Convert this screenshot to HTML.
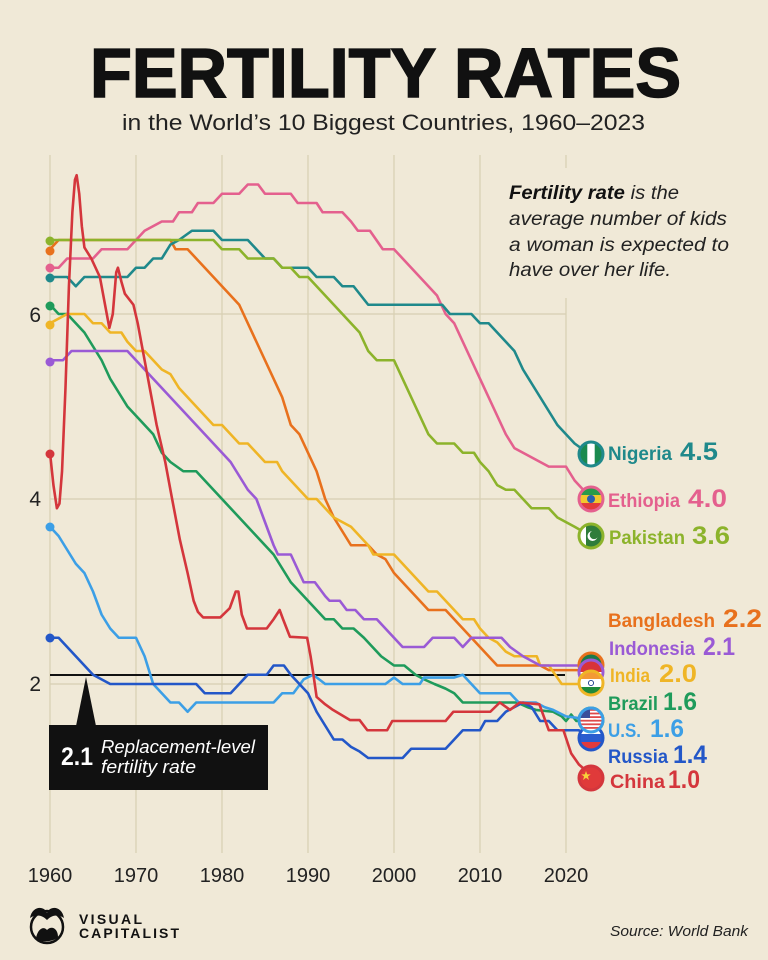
<!DOCTYPE html>
<html><head><meta charset="utf-8">
<style>
html,body{margin:0;padding:0;background:#f0e9d7;}
svg{display:block;}
polyline{vector-effect:non-scaling-stroke;}
text{font-family:"Liberation Sans",sans-serif;}
</style></head>
<body>
<svg width="768" height="960" viewBox="0 0 768 960" xmlns="http://www.w3.org/2000/svg">
<rect width="768" height="960" fill="#f0e9d7"/>
<defs><clipPath id="fc"><circle r="11"/></clipPath></defs>

<!-- Title -->
<text x="90" y="97" font-size="70" font-weight="bold" fill="#111" stroke="#111" stroke-width="1.6" textLength="591" lengthAdjust="spacingAndGlyphs">FERTILITY RATES</text>
<text x="122" y="130" font-size="22" fill="#222" textLength="523" lengthAdjust="spacingAndGlyphs">in the World’s 10 Biggest Countries, 1960–2023</text>

<!-- grid -->
<g stroke="#d7cfb2" stroke-width="1.2">
<line x1="50" y1="155" x2="50" y2="853"/>
<line x1="136" y1="155" x2="136" y2="853"/>
<line x1="222" y1="155" x2="222" y2="853"/>
<line x1="308" y1="155" x2="308" y2="853"/>
<line x1="394" y1="155" x2="394" y2="853"/>
<line x1="480" y1="155" x2="480" y2="853"/>
<line x1="566" y1="155" x2="566" y2="853"/>
<line x1="50" y1="314" x2="566" y2="314"/>
<line x1="50" y1="499" x2="566" y2="499"/>
<line x1="50" y1="684" x2="566" y2="684"/>
</g>

<!-- description -->
<rect x="500" y="168" width="250" height="130" fill="#f0e9d7"/>
<g font-size="19" font-style="italic" fill="#222">
<text x="509" y="199" textLength="170" lengthAdjust="spacingAndGlyphs"><tspan font-weight="bold" fill="#111">Fertility rate</tspan> is the</text>
<text x="509" y="225" textLength="218" lengthAdjust="spacingAndGlyphs">average number of kids</text>
<text x="509" y="251" textLength="220" lengthAdjust="spacingAndGlyphs">a woman is expected to</text>
<text x="509" y="276" textLength="162" lengthAdjust="spacingAndGlyphs">have over her life.</text>
</g>

<!-- y labels -->
<g font-size="21" fill="#222" text-anchor="end">
<text x="41" y="322">6</text>
<text x="41" y="506">4</text>
<text x="41" y="691">2</text>
</g>
<!-- x labels -->
<g font-size="20" fill="#222" text-anchor="middle">
<text x="50" y="882">1960</text>
<text x="136" y="882">1970</text>
<text x="222" y="882">1980</text>
<text x="308" y="882">1990</text>
<text x="394" y="882">2000</text>
<text x="480" y="882">2010</text>
<text x="566" y="882">2020</text>
</g>

<!-- replacement line -->
<line x1="50" y1="675" x2="565" y2="675" stroke="#111" stroke-width="2"/>

<!-- series -->
<g transform="translate(50 684) scale(8.6 -92.5) translate(-1960 -2)" fill="none" stroke-width="2.6" stroke-linejoin="round" stroke-linecap="round">
<polyline stroke="#e8711d" points="1960,6.7 1961,6.8 1974,6.8 1974.6,6.7 1976,6.7 1977,6.6 1978,6.5 1979,6.4 1980,6.3 1981,6.2 1982,6.1 1983,5.9 1984,5.7 1985,5.5 1986,5.3 1987,5.1 1988,4.8 1989,4.7 1990,4.5 1991,4.3 1992,4.0 1993,3.8 1994,3.65 1995,3.5 1997,3.5 1998,3.4 1999,3.35 2000,3.2 2001,3.1 2002,3.0 2003,2.9 2004,2.8 2006,2.8 2007,2.7 2008,2.6 2009,2.5 2010,2.4 2011,2.3 2012,2.2 2017,2.2 2018,2.15 2022.5,2.15"/>
<polyline stroke="#e4608e" points="1960,6.5 1961,6.5 1962,6.6 1965,6.6 1966,6.7 1969,6.7 1970,6.8 1971,6.9 1972,6.95 1973,7.0 1974.3,7.0 1975,7.1 1976.5,7.1 1977.2,7.2 1979,7.2 1980,7.3 1982,7.3 1983,7.4 1984.2,7.4 1985,7.3 1988,7.3 1988.8,7.2 1991,7.2 1991.7,7.1 1994,7.1 1995,7.0 1995.8,6.9 1997.2,6.9 1998.7,6.7 2000,6.7 2001,6.6 2002,6.5 2003,6.4 2004,6.3 2005,6.2 2006,6.0 2007,5.9 2008,5.7 2009,5.5 2010,5.3 2011,5.1 2012,4.9 2013,4.7 2014,4.55 2015,4.5 2016,4.45 2017,4.4 2018,4.35 2020,4.35 2021,4.2 2022.5,4.05"/>
<polyline stroke="#1f898b" points="1960,6.4 1962,6.4 1963,6.3 1964,6.4 1969,6.4 1970,6.5 1971,6.5 1972,6.6 1973,6.6 1974,6.75 1975,6.8 1976.5,6.9 1979,6.9 1980,6.8 1983,6.8 1984,6.7 1985,6.6 1986,6.6 1987,6.5 1990,6.5 1991,6.4 1993,6.4 1994,6.3 1995.3,6.3 1997,6.1 2005.6,6.1 2006.5,6.0 2009,6.0 2010,5.9 2011,5.9 2012,5.8 2013,5.7 2014,5.6 2015,5.4 2016,5.25 2017,5.1 2018,4.95 2019,4.8 2020,4.7 2021,4.6 2022.5,4.5"/>
<polyline stroke="#8cb32b" points="1960,6.8 1979,6.8 1980,6.7 1982,6.7 1983,6.6 1986,6.6 1987,6.5 1988,6.5 1989,6.4 1990,6.4 1991,6.3 1992,6.2 1993,6.1 1994,6.0 1995,5.9 1996,5.8 1997,5.6 1998,5.5 2000,5.5 2001,5.3 2002,5.1 2003,4.9 2004,4.7 2005,4.6 2007,4.6 2008,4.5 2009.3,4.5 2010,4.4 2011,4.3 2012,4.15 2013,4.1 2014,4.1 2015,4.0 2016,3.9 2018,3.9 2019,3.8 2020,3.75 2021,3.7 2022.5,3.62"/>
<polyline stroke="#1f9b5b" points="1960,6.1 1961,6.0 1962,6.0 1963,5.9 1964,5.8 1965,5.65 1966,5.5 1967,5.3 1968,5.15 1969,5.0 1970,4.9 1971,4.8 1972,4.7 1973,4.5 1974,4.4 1975.5,4.3 1977,4.3 1978,4.2 1979,4.1 1980,4.0 1981,3.9 1982,3.8 1983,3.7 1984,3.6 1985,3.5 1986,3.4 1987,3.25 1988,3.1 1989,3.0 1990,2.9 1991,2.8 1992,2.7 1993,2.7 1994,2.6 1995.3,2.6 1996.5,2.5 1997.5,2.4 1998.5,2.3 2000,2.2 2001.2,2.2 2002.5,2.1 2003.5,2.05 2004.7,2.0 2006,1.95 2007,1.9 2008,1.8 2014.3,1.8 2015.5,1.75 2016.5,1.72 2018.5,1.7 2019.5,1.65 2020,1.6 2020.6,1.67 2021.2,1.6 2022.5,1.62"/>
<polyline stroke="#efb526" points="1960,5.9 1961,5.95 1962,6.0 1964,6.0 1965,5.9 1966,5.9 1967,5.8 1968.3,5.8 1969,5.7 1970,5.6 1971,5.6 1972,5.5 1973,5.4 1974,5.35 1975,5.2 1976,5.1 1977,5.0 1978,4.9 1979,4.8 1980,4.8 1981,4.7 1982,4.6 1983,4.6 1984,4.5 1985,4.4 1986.4,4.4 1987,4.3 1988,4.2 1989,4.1 1990,4.0 1991,4.0 1992,3.9 1993,3.8 1994,3.75 1995,3.7 1996,3.6 1997,3.5 1997.6,3.4 2000,3.4 2001,3.3 2002,3.2 2003,3.1 2004,3.0 2005,3.0 2006,2.9 2007,2.8 2008,2.7 2009.3,2.7 2010,2.6 2011,2.5 2012,2.45 2013,2.35 2014,2.3 2016.6,2.3 2017,2.2 2018,2.2 2019.5,2.0 2022.5,2.0"/>
<polyline stroke="#9a5ad5" points="1960,5.5 1961.5,5.5 1962.5,5.6 1969,5.6 1970,5.5 1971,5.4 1972,5.3 1973,5.2 1974,5.1 1975,5.0 1976,4.9 1977,4.8 1978,4.7 1979,4.6 1980,4.5 1981,4.4 1982,4.25 1983,4.1 1984,4.0 1985,3.75 1986,3.5 1986.5,3.4 1988,3.4 1989,3.2 1989.5,3.1 1990.8,3.1 1992,2.95 1992.5,2.9 1993.7,2.9 1994.5,2.8 1995.5,2.8 1996.5,2.7 1998,2.7 1999,2.6 2000,2.5 2001,2.4 2003.5,2.4 2004.5,2.5 2007,2.5 2008,2.4 2009,2.5 2012.5,2.5 2013.5,2.4 2015,2.3 2016,2.25 2017,2.2 2022.5,2.2"/>
<polyline stroke="#3c9fe6" points="1960,3.7 1961,3.6 1962,3.45 1963,3.3 1964,3.2 1965,3.0 1966,2.75 1967,2.6 1968,2.5 1970,2.5 1971,2.3 1972,2.0 1973,1.9 1974,1.8 1975,1.8 1976,1.7 1977,1.8 1986,1.8 1987,1.9 1988.3,1.9 1989.5,2.05 1990.6,2.1 1992,2.0 1999,2.0 2000,2.07 2001,2.0 2003,2.0 2003.5,2.07 2007,2.07 2008,2.1 2009,2.0 2010,1.9 2013.5,1.9 2014.5,1.8 2016.5,1.8 2017.5,1.75 2018.5,1.72 2020,1.65 2022.5,1.62"/>
<polyline stroke="#2357c8" points="1960,2.5 1961,2.5 1962,2.4 1963,2.3 1964,2.2 1965,2.1 1966,2.05 1967,2.0 1977,2.0 1978,1.9 1981,1.9 1982,2.0 1983,2.1 1985.2,2.1 1986,2.2 1987.2,2.2 1988,2.1 1989,2.0 1990,1.9 1991,1.7 1992,1.55 1993,1.4 1994,1.4 1995,1.32 1996,1.27 1997,1.2 2001,1.2 2002,1.3 2006,1.3 2007,1.4 2008,1.5 2010,1.5 2010.6,1.6 2012,1.6 2013,1.7 2014,1.75 2015,1.8 2016,1.75 2017,1.6 2018,1.6 2019,1.5 2021.5,1.5 2022.5,1.42"/>
<polyline stroke="#d4363c" points="1960,4.5 1960.4,4.15 1960.8,3.9 1961.1,3.95 1961.4,4.3 1961.8,5.2 1962.2,6.3 1962.6,7.1 1962.9,7.45 1963.1,7.5 1963.4,7.3 1963.7,6.95 1964,6.72 1964.8,6.6 1965.8,6.4 1966.4,6.1 1966.9,5.85 1967.3,6.0 1967.7,6.45 1967.9,6.5 1968.3,6.35 1968.7,6.22 1969.7,6.1 1970.2,5.9 1970.8,5.6 1971.6,5.2 1972.4,4.8 1973.4,4.4 1974.2,4.0 1975.1,3.56 1976,3.2 1976.7,2.9 1977.2,2.78 1977.8,2.72 1979.8,2.72 1980.9,2.82 1981.6,3.0 1981.9,3.0 1982.3,2.75 1982.9,2.6 1985.2,2.6 1986,2.7 1986.7,2.8 1987.1,2.7 1987.9,2.51 1989.9,2.5 1990.3,2.3 1990.6,2.12 1991,1.86 1992,1.78 1992.9,1.72 1994.9,1.61 1996,1.61 1996.9,1.5 1999.2,1.5 1999.8,1.6 2006,1.6 2006.9,1.7 2011.2,1.7 2012.3,1.8 2013.5,1.72 2014.6,1.8 2016.9,1.78 2018,1.5 2019.7,1.5 2020.6,1.25 2021.5,1.13 2022.5,1.05"/>
</g>

<!-- start dots -->
<g>
<circle cx="50" cy="251" r="4.5" fill="#e8711d"/>
<circle cx="50" cy="268" r="4.5" fill="#e4608e"/>
<circle cx="50" cy="278" r="4.5" fill="#1f898b"/>
<circle cx="50" cy="241" r="4.5" fill="#8cb32b"/>
<circle cx="50" cy="306" r="4.5" fill="#1f9b5b"/>
<circle cx="50" cy="325" r="4.5" fill="#efb526"/>
<circle cx="50" cy="362" r="4.5" fill="#9a5ad5"/>
<circle cx="50" cy="454" r="4.5" fill="#d4363c"/>
<circle cx="50" cy="527" r="4.5" fill="#3c9fe6"/>
<circle cx="50" cy="638" r="4.5" fill="#2357c8"/>
</g>

<!-- replacement box -->
<polygon points="76,726 96,726 86,677" fill="#111"/>
<rect x="49" y="725" width="219" height="65" fill="#111"/>
<text x="61" y="765" font-size="25" font-weight="bold" fill="#fff" textLength="32" lengthAdjust="spacingAndGlyphs">2.1</text>
<text x="101" y="753" font-size="18.5" font-style="italic" fill="#fff" textLength="154" lengthAdjust="spacingAndGlyphs">Replacement-level</text>
<text x="101" y="773" font-size="18.5" font-style="italic" fill="#fff" textLength="95" lengthAdjust="spacingAndGlyphs">fertility rate</text>

<!-- flags -->
<g transform="translate(591,454)"><g clip-path="url(#fc)"><rect x="-12" y="-12" width="24" height="24" fill="#1a8a4f"/><rect x="-3.7" y="-12" width="7.4" height="24" fill="#fff"/></g><circle r="12" fill="none" stroke="#1f898b" stroke-width="3"/></g>
<g transform="translate(591,499)"><g clip-path="url(#fc)"><rect x="-12" y="-12" width="24" height="8" fill="#2a9a4a"/><rect x="-12" y="-4" width="24" height="8" fill="#f2c72e"/><rect x="-12" y="4" width="24" height="8" fill="#e23b3b"/><circle r="4" fill="#2a5fb0"/></g><circle r="12" fill="none" stroke="#e4608e" stroke-width="3"/></g>
<g transform="translate(591,536)"><g clip-path="url(#fc)"><rect x="-12" y="-12" width="24" height="24" fill="#2f7d3a"/><rect x="-12" y="-12" width="7" height="24" fill="#fff"/><circle cx="1.5" cy="0" r="5" fill="#fff"/><circle cx="3" cy="-1.2" r="4.3" fill="#2f7d3a"/></g><circle r="12" fill="none" stroke="#8cb32b" stroke-width="3"/></g>
<g transform="translate(591,665)"><g clip-path="url(#fc)"><rect x="-12" y="-12" width="24" height="24" fill="#1a7a4a"/><circle r="5" fill="#d8333a"/></g><circle r="12" fill="none" stroke="#e8711d" stroke-width="3"/></g>
<g transform="translate(591,672)"><g clip-path="url(#fc)"><rect x="-12" y="-12" width="24" height="12" fill="#d8333a"/><rect x="-12" y="0" width="24" height="12" fill="#fff"/></g><circle r="12" fill="none" stroke="#9a5ad5" stroke-width="3"/></g>
<g transform="translate(591,683)"><g clip-path="url(#fc)"><rect x="-12" y="-12" width="24" height="8" fill="#f39a35"/><rect x="-12" y="-4" width="24" height="8" fill="#fff"/><rect x="-12" y="4" width="24" height="8" fill="#1f8a3a"/><circle r="2.6" fill="none" stroke="#1d3d8a" stroke-width="0.9"/></g><circle r="12" fill="none" stroke="#efb526" stroke-width="3"/></g>
<g transform="translate(591,720)"><g clip-path="url(#fc)"><rect x="-12" y="-12" width="24" height="24" fill="#1f9b5b"/></g><circle r="12" fill="none" stroke="#1f9b5b" stroke-width="3"/></g>
<g transform="translate(591,738)"><g clip-path="url(#fc)"><rect x="-12" y="-12" width="24" height="8" fill="#fff"/><rect x="-12" y="-4" width="24" height="8" fill="#2a5ccf"/><rect x="-12" y="4" width="24" height="8" fill="#e23b3b"/></g><circle r="12" fill="none" stroke="#2357c8" stroke-width="3"/></g>
<g transform="translate(591,720)"><g clip-path="url(#fc)"><rect x="-12" y="-12" width="24" height="24" fill="#fff"/><g fill="#e04a4a"><rect x="-12" y="-11" width="24" height="1.8"/><rect x="-12" y="-7.4" width="24" height="1.8"/><rect x="-12" y="-3.8" width="24" height="1.8"/><rect x="-12" y="-0.2" width="24" height="1.8"/><rect x="-12" y="3.4" width="24" height="1.8"/><rect x="-12" y="7" width="24" height="1.8"/><rect x="-12" y="10.4" width="24" height="1.8"/></g><rect x="-12" y="-12" width="11" height="10" fill="#3a4f9a"/></g><circle r="12" fill="none" stroke="#3c9fe6" stroke-width="3"/></g>
<g transform="translate(591,778)"><g clip-path="url(#fc)"><rect x="-12" y="-12" width="24" height="24" fill="#e03a3a"/><polygon points="-5,-7 -3.8,-3.6 -0.3,-3.6 -3.1,-1.5 -2,2 -5,-0.2 -8,2 -6.9,-1.5 -9.7,-3.6 -6.2,-3.6" fill="#f7d23a"/></g><circle r="12" fill="none" stroke="#d4363c" stroke-width="3"/></g>

<!-- right labels -->
<g font-weight="bold">
<text x="608" y="460" font-size="19" fill="#1f898b" textLength="64" lengthAdjust="spacingAndGlyphs">Nigeria</text>
<text x="680" y="460" font-size="25" fill="#1f898b" textLength="38" lengthAdjust="spacingAndGlyphs">4.5</text>
<text x="608" y="507" font-size="19" fill="#e4608e" textLength="72" lengthAdjust="spacingAndGlyphs">Ethiopia</text>
<text x="688" y="507" font-size="25" fill="#e4608e" textLength="39" lengthAdjust="spacingAndGlyphs">4.0</text>
<text x="609" y="544" font-size="19" fill="#8cb32b" textLength="76" lengthAdjust="spacingAndGlyphs">Pakistan</text>
<text x="692" y="544" font-size="25" fill="#8cb32b" textLength="38" lengthAdjust="spacingAndGlyphs">3.6</text>
<text x="608" y="627" font-size="19" fill="#e8711d" textLength="107" lengthAdjust="spacingAndGlyphs">Bangladesh</text>
<text x="723" y="627" font-size="25" fill="#e8711d" textLength="39" lengthAdjust="spacingAndGlyphs">2.2</text>
<text x="609" y="655" font-size="19" fill="#9a5ad5" textLength="86" lengthAdjust="spacingAndGlyphs">Indonesia</text>
<text x="703" y="655" font-size="25" fill="#9a5ad5" textLength="32" lengthAdjust="spacingAndGlyphs">2.1</text>
<text x="610" y="682" font-size="19" fill="#efb526" textLength="40" lengthAdjust="spacingAndGlyphs">India</text>
<text x="659" y="682" font-size="25" fill="#efb526" textLength="38" lengthAdjust="spacingAndGlyphs">2.0</text>
<text x="608" y="710" font-size="19" fill="#1f9b5b" textLength="50" lengthAdjust="spacingAndGlyphs">Brazil</text>
<text x="663" y="710" font-size="25" fill="#1f9b5b" textLength="34" lengthAdjust="spacingAndGlyphs">1.6</text>
<text x="608" y="737" font-size="19" fill="#3c9fe6" textLength="33" lengthAdjust="spacingAndGlyphs">U.S.</text>
<text x="650" y="737" font-size="25" fill="#3c9fe6" textLength="34" lengthAdjust="spacingAndGlyphs">1.6</text>
<text x="608" y="763" font-size="19" fill="#2357c8" textLength="60" lengthAdjust="spacingAndGlyphs">Russia</text>
<text x="673" y="763" font-size="25" fill="#2357c8" textLength="34" lengthAdjust="spacingAndGlyphs">1.4</text>
<text x="610" y="788" font-size="19" fill="#d4363c" textLength="55" lengthAdjust="spacingAndGlyphs">China</text>
<text x="668" y="788" font-size="25" fill="#d4363c" textLength="32" lengthAdjust="spacingAndGlyphs">1.0</text>
</g>

<!-- logo -->
<g>
<circle cx="47" cy="927" r="16" fill="none" stroke="#111" stroke-width="2.5"/>
<path d="M30,918 C32,906 44,905 47,913 C50,905 62,906 64,918 C58,914 52,915 47,920 C42,915 36,914 30,918 Z" fill="#111"/>
<path d="M36,938 C38,928 44,926 47,930 C52,925 58,929 58,937 C54,942 40,943 36,938 Z" fill="#111"/>
</g>
<text x="79" y="924" font-size="14" font-weight="bold" fill="#111" textLength="63" lengthAdjust="spacing">VISUAL</text>
<text x="79" y="938" font-size="14" font-weight="bold" fill="#111" textLength="100" lengthAdjust="spacing">CAPITALIST</text>

<text x="610" y="936" font-size="14.5" font-style="italic" fill="#222" textLength="138" lengthAdjust="spacingAndGlyphs">Source: World Bank</text>
</svg>
</body></html>
